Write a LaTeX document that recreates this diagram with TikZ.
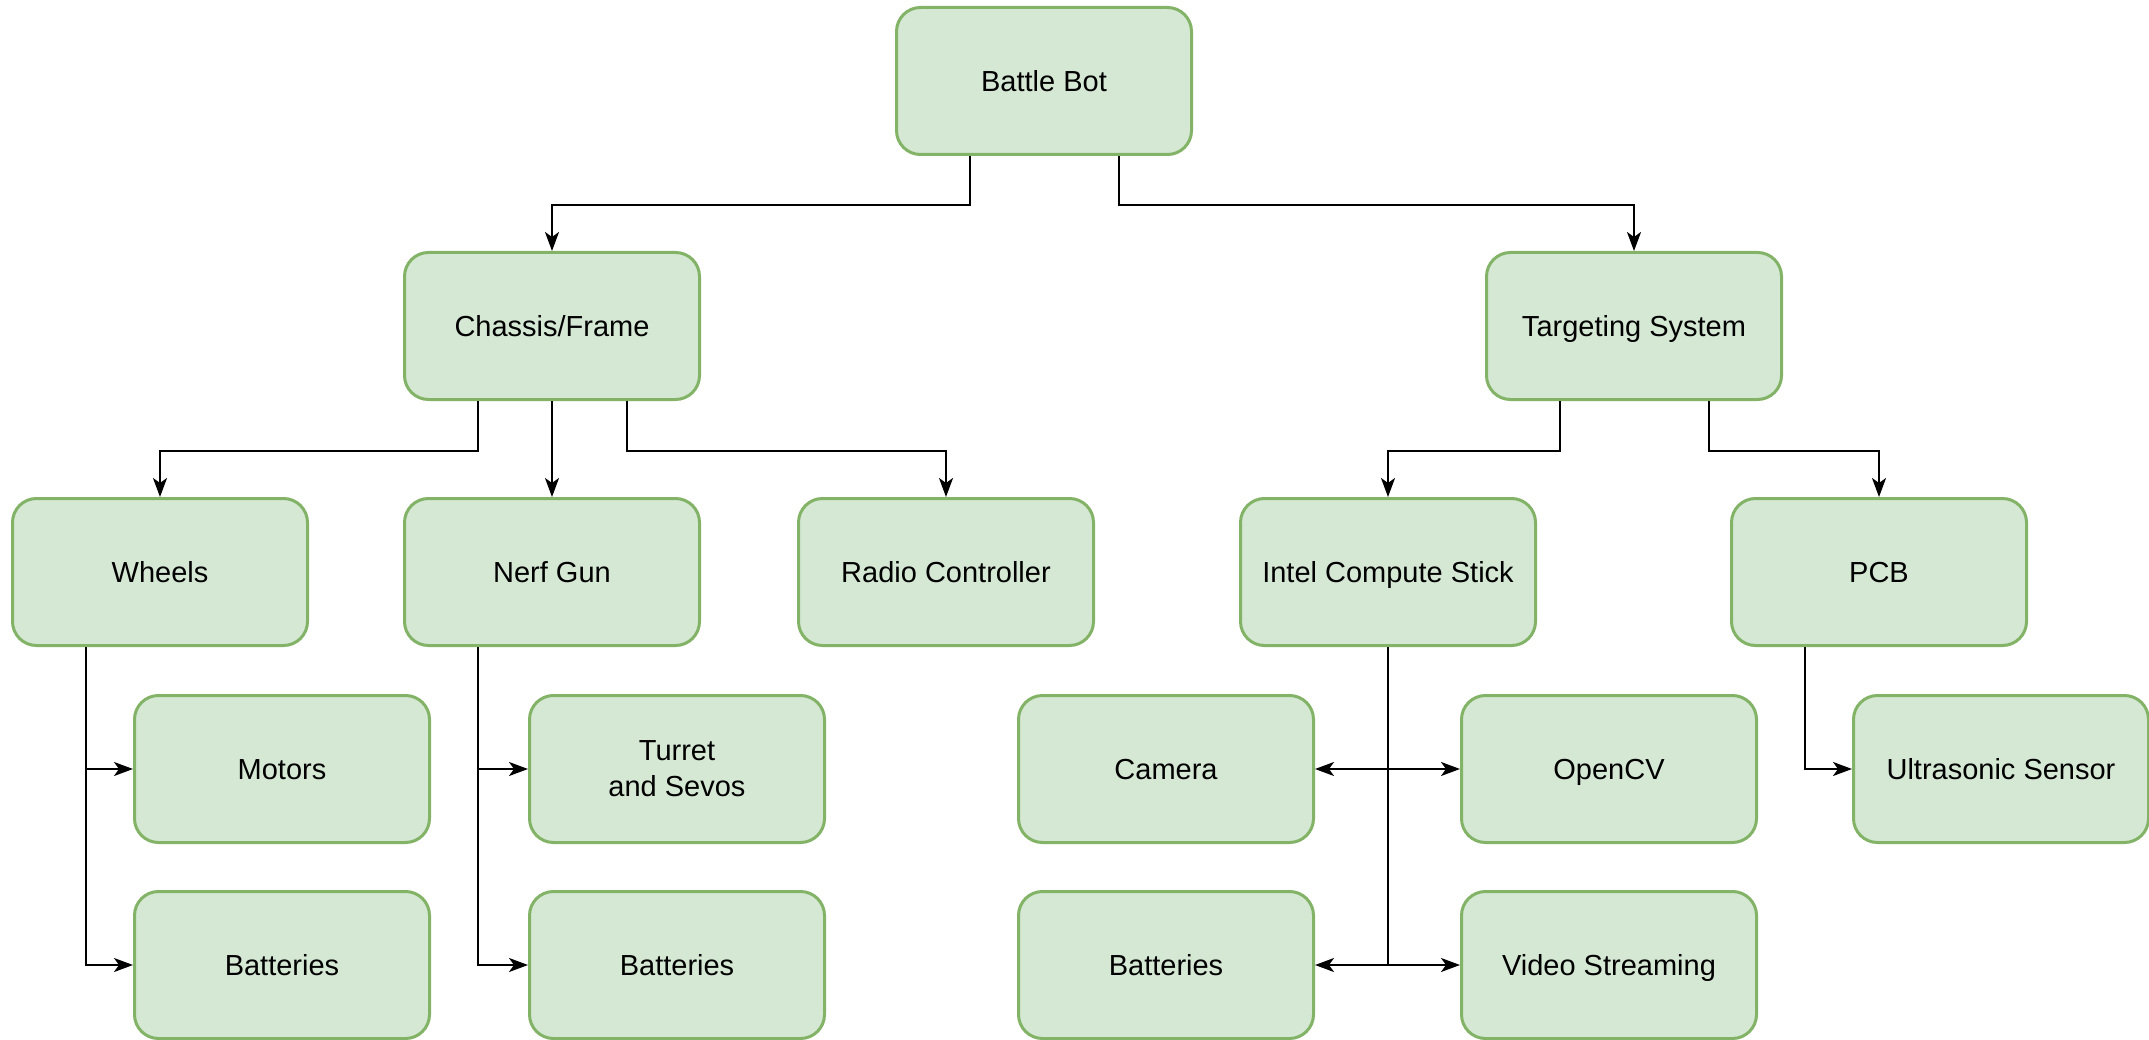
\documentclass[tikz,border=0pt]{standalone}
\usepackage{fontspec}
\setmainfont{Liberation Sans}
\usetikzlibrary{arrows.meta,calc}
\definecolor{boxfill}{HTML}{D5E8D4}
\definecolor{boxline}{HTML}{82B366}
\begin{document}
\begin{tikzpicture}[x=1pt,y=-1pt,
  part/.style={draw=boxline, fill=boxfill, line width=3pt, rounded corners=24pt,
    minimum width=295pt, minimum height=147pt, inner sep=0pt, align=center,
    font=\fontsize{29}{36}\selectfont},
  oneline/.style={part, text height=21pt, text depth=0pt},
  link/.style={line width=2pt, draw=black, -{Stealth[length=19pt,width=14pt,inset=5pt]}}]
\useasboundingbox[fill=white] (0,0) rectangle (2149,1040);

% top level
\node[oneline] (bot) at (1044,81) {Battle Bot};
% subsystems
\node[oneline] (chassis) at (552,326) {Chassis/Frame};
\node[oneline] (target) at (1634,326) {Targeting System};
% components
\node[oneline] (wheels) at (160,572) {Wheels};
\node[oneline] (nerf) at (552,572) {Nerf Gun};
\node[oneline] (radio) at (946,572) {Radio Controller};
\node[oneline] (stick) at (1388,572) {Intel Compute Stick};
\node[oneline] (pcb) at (1879,572) {PCB};
% parts
\node[oneline] (motors) at (282,769) {Motors};
\node[oneline] (batwheels) at (282,965) {Batteries};
\node[part] (turret) at (677,769) {Turret\\and Sevos};
\node[oneline] (batgun) at (677,965) {Batteries};
\node[oneline] (camera) at (1166,769) {Camera};
\node[oneline] (opencv) at (1609,769) {OpenCV};
\node[oneline] (batstick) at (1166,965) {Batteries};
\node[oneline] (video) at (1609,965) {Video Streaming};
\node[oneline] (sonar) at (2001,769) {Ultrasonic Sensor};

% exit points along the bottom edges
\coordinate (botL) at ($(bot.south)!0.5!(bot.south west)$);
\coordinate (botR) at ($(bot.south)!0.5!(bot.south east)$);
\coordinate (chL) at ($(chassis.south)!0.5!(chassis.south west)$);
\coordinate (chR) at ($(chassis.south)!0.5!(chassis.south east)$);
\coordinate (tgL) at ($(target.south)!0.5!(target.south west)$);
\coordinate (tgR) at ($(target.south)!0.5!(target.south east)$);
\coordinate (whL) at ($(wheels.south)!0.5!(wheels.south west)$);
\coordinate (ngL) at ($(nerf.south)!0.5!(nerf.south west)$);
\coordinate (pcL) at ($(pcb.south)!0.5!(pcb.south west)$);

% tree connectors
\draw[link] (botL) -- ++(0,49) -| (chassis.north);
\draw[link] (botR) -- ++(0,49) -| (target.north);
\draw[link] (chL) -- ++(0,49.5) -| (wheels.north);
\draw[link] (chassis.south) -- (nerf.north);
\draw[link] (chR) -- ++(0,49.5) -| (radio.north);
\draw[link] (tgL) -- ++(0,49.5) -| (stick.north);
\draw[link] (tgR) -- ++(0,49.5) -| (pcb.north);

% side branches
\draw[link] (whL) |- (motors.west);
\draw[link] (whL) |- (batwheels.west);
\draw[link] (ngL) |- (turret.west);
\draw[link] (ngL) |- (batgun.west);
\draw[link] (stick.south) |- (camera.east);
\draw[link] (stick.south) |- (opencv.west);
\draw[link] (stick.south) |- (batstick.east);
\draw[link] (stick.south) |- (video.west);
\draw[link] (pcL) |- (sonar.west);
\end{tikzpicture}
\end{document}
